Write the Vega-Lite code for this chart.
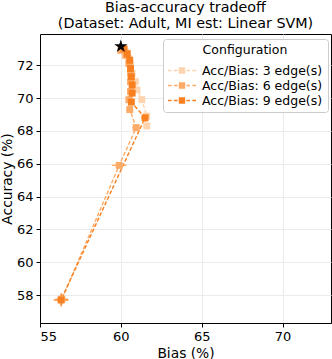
{
  "$schema": "https://vega.github.io/schema/vega-lite/v6.json",
  "autosize": {"type": "none"},
  "width": 291,
  "height": 289,
  "padding": {"left": 40, "top": 34, "right": 1, "bottom": 36},
  "background": "white",
  "config": {
    "font": "DejaVu Sans",
    "view": {"stroke": "black", "strokeWidth": 1}
  },
  "title": {
    "text": ["Bias-accuracy tradeoff", "(Dataset: Adult, MI est: Linear SVM)"],
    "fontSize": 14.3,
    "fontWeight": "normal",
    "font": "DejaVu Sans",
    "color": "black",
    "lineHeight": 15.5,
    "offset": 3,
    "anchor": "middle"
  },
  "datasets": {
    "pts": [
      {"cfg": "Acc/Bias: 3 edge(s)", "o": 1, "x": 60.1, "y": 73.0, "xlo": 60.0, "xhi": 60.2, "ylo": 72.9, "yhi": 73.1},
      {"cfg": "Acc/Bias: 3 edge(s)", "o": 2, "x": 60.3, "y": 72.8, "xlo": 60.2, "xhi": 60.4, "ylo": 72.7, "yhi": 72.9},
      {"cfg": "Acc/Bias: 3 edge(s)", "o": 3, "x": 60.5, "y": 72.4, "xlo": 60.4, "xhi": 60.6, "ylo": 72.3, "yhi": 72.5},
      {"cfg": "Acc/Bias: 3 edge(s)", "o": 4, "x": 60.6, "y": 72.0, "xlo": 60.5, "xhi": 60.7, "ylo": 71.9, "yhi": 72.1},
      {"cfg": "Acc/Bias: 3 edge(s)", "o": 5, "x": 60.7, "y": 71.5, "xlo": 60.6, "xhi": 60.8, "ylo": 71.4, "yhi": 71.6},
      {"cfg": "Acc/Bias: 3 edge(s)", "o": 6, "x": 60.9, "y": 71.0, "xlo": 60.8, "xhi": 61.0, "ylo": 70.9, "yhi": 71.1},
      {"cfg": "Acc/Bias: 3 edge(s)", "o": 7, "x": 61.0, "y": 70.5, "xlo": 60.9, "xhi": 61.1, "ylo": 70.4, "yhi": 70.6},
      {"cfg": "Acc/Bias: 3 edge(s)", "o": 8, "x": 61.3, "y": 69.9, "xlo": 61.1, "xhi": 61.5, "ylo": 69.7, "yhi": 70.1},
      {"cfg": "Acc/Bias: 3 edge(s)", "o": 9, "x": 61.6, "y": 68.9, "xlo": 61.4, "xhi": 61.8, "ylo": 68.7, "yhi": 69.1},
      {"cfg": "Acc/Bias: 3 edge(s)", "o": 10, "x": 61.6, "y": 68.3, "xlo": 61.4, "xhi": 61.8, "ylo": 68.1, "yhi": 68.5},
      {"cfg": "Acc/Bias: 6 edge(s)", "o": 1, "x": 60.0, "y": 72.9, "xlo": 59.9, "xhi": 60.1, "ylo": 72.8, "yhi": 73.0},
      {"cfg": "Acc/Bias: 6 edge(s)", "o": 2, "x": 60.3, "y": 72.6, "xlo": 60.2, "xhi": 60.4, "ylo": 72.5, "yhi": 72.7},
      {"cfg": "Acc/Bias: 6 edge(s)", "o": 3, "x": 60.5, "y": 72.1, "xlo": 60.4, "xhi": 60.6, "ylo": 72.0, "yhi": 72.2},
      {"cfg": "Acc/Bias: 6 edge(s)", "o": 4, "x": 60.6, "y": 71.5, "xlo": 60.5, "xhi": 60.7, "ylo": 71.4, "yhi": 71.6},
      {"cfg": "Acc/Bias: 6 edge(s)", "o": 5, "x": 60.6, "y": 71.0, "xlo": 60.5, "xhi": 60.7, "ylo": 70.9, "yhi": 71.1},
      {"cfg": "Acc/Bias: 6 edge(s)", "o": 6, "x": 60.6, "y": 70.4, "xlo": 60.5, "xhi": 60.7, "ylo": 70.3, "yhi": 70.5},
      {"cfg": "Acc/Bias: 6 edge(s)", "o": 7, "x": 60.5, "y": 69.9, "xlo": 60.4, "xhi": 60.6, "ylo": 69.8, "yhi": 70.0},
      {"cfg": "Acc/Bias: 6 edge(s)", "o": 8, "x": 60.55, "y": 69.3, "xlo": 60.4, "xhi": 60.7, "ylo": 69.15, "yhi": 69.45},
      {"cfg": "Acc/Bias: 6 edge(s)", "o": 9, "x": 60.95, "y": 68.2, "xlo": 60.7, "xhi": 61.2, "ylo": 68.0, "yhi": 68.4},
      {"cfg": "Acc/Bias: 6 edge(s)", "o": 10, "x": 59.9, "y": 65.9, "xlo": 59.45, "xhi": 60.35, "ylo": 65.75, "yhi": 66.05},
      {"cfg": "Acc/Bias: 6 edge(s)", "o": 11, "x": 56.35, "y": 57.75, "xlo": 55.95, "xhi": 56.75, "ylo": 57.4, "yhi": 58.1},
      {"cfg": "Acc/Bias: 9 edge(s)", "o": 1, "x": 60.2, "y": 73.0, "xlo": 60.1, "xhi": 60.3, "ylo": 72.9, "yhi": 73.1},
      {"cfg": "Acc/Bias: 9 edge(s)", "o": 2, "x": 60.4, "y": 72.7, "xlo": 60.3, "xhi": 60.5, "ylo": 72.6, "yhi": 72.8},
      {"cfg": "Acc/Bias: 9 edge(s)", "o": 3, "x": 60.55, "y": 72.3, "xlo": 60.45, "xhi": 60.65, "ylo": 72.2, "yhi": 72.4},
      {"cfg": "Acc/Bias: 9 edge(s)", "o": 4, "x": 60.6, "y": 71.8, "xlo": 60.5, "xhi": 60.7, "ylo": 71.7, "yhi": 71.9},
      {"cfg": "Acc/Bias: 9 edge(s)", "o": 5, "x": 60.65, "y": 71.3, "xlo": 60.55, "xhi": 60.75, "ylo": 71.2, "yhi": 71.4},
      {"cfg": "Acc/Bias: 9 edge(s)", "o": 6, "x": 60.7, "y": 70.8, "xlo": 60.6, "xhi": 60.8, "ylo": 70.7, "yhi": 70.9},
      {"cfg": "Acc/Bias: 9 edge(s)", "o": 7, "x": 60.7, "y": 70.3, "xlo": 60.6, "xhi": 60.8, "ylo": 70.2, "yhi": 70.4},
      {"cfg": "Acc/Bias: 9 edge(s)", "o": 8, "x": 60.65, "y": 69.75, "xlo": 60.5, "xhi": 60.8, "ylo": 69.6, "yhi": 69.9},
      {"cfg": "Acc/Bias: 9 edge(s)", "o": 9, "x": 61.5, "y": 68.8, "xlo": 61.25, "xhi": 61.75, "ylo": 68.55, "yhi": 69.05},
      {"cfg": "Acc/Bias: 9 edge(s)", "o": 10, "x": 56.3, "y": 57.7, "xlo": 55.85, "xhi": 56.75, "ylo": 57.3, "yhi": 58.1}
    ],
    "star": [{"x": 60.0, "y": 73.15}]
  },
  "encoding": {
    "x": {
      "field": "x", "type": "quantitative",
      "scale": {"domain": [55, 73], "nice": false, "zero": false},
      "axis": {
        "title": "Bias (%)", "values": [55, 60, 65, 70],
        "titleFontSize": 13.8, "titleFontWeight": "normal", "titleColor": "black",
        "labelFontSize": 13, "labelColor": "black", "labelPadding": 3,
        "domainColor": "black", "tickColor": "black", "tickSize": 4,
        "gridColor": "#ebebeb", "titlePadding": 3
      }
    },
    "y": {
      "field": "y", "type": "quantitative",
      "scale": {"domain": [56.3, 73.9], "nice": false, "zero": false},
      "axis": {
        "title": "Accuracy (%)", "values": [58, 60, 62, 64, 66, 68, 70, 72],
        "titleFontSize": 13.8, "titleFontWeight": "normal", "titleColor": "black",
        "labelFontSize": 13, "labelColor": "black", "labelPadding": 3,
        "domainColor": "black", "tickColor": "black", "tickSize": 4,
        "gridColor": "#ebebeb", "titlePadding": 2
      }
    }
  },
  "layer": [
    {
      "data": {"name": "pts"},
      "mark": {"type": "line", "strokeDash": [4, 2], "strokeWidth": 1.4},
      "encoding": {
        "order": {"field": "o", "type": "quantitative"},
        "color": {
          "field": "cfg", "type": "nominal",
          "scale": {"domain": ["Acc/Bias: 3 edge(s)", "Acc/Bias: 6 edge(s)", "Acc/Bias: 9 edge(s)"], "range": ["#fdd4ae", "#fdab66", "#f98020"]},
          "legend": {
            "title": "Configuration",
            "orient": "none", "legendX": 123, "legendY": 5,
            "titleFontSize": 12.5, "titleFontWeight": "normal", "titleColor": "black",
            "titleAnchor": "middle", "titlePadding": 6,
            "labelFontSize": 12.5, "labelColor": "black",
            "symbolType": "M-1.75,-0.1H-1.3V0.1H-1.75Z M-1.0,-0.1H-0.55V0.1H-1.0Z M-0.4,-0.4H0.4V0.4H-0.4Z M0.55,-0.1H1.0V0.1H0.55Z M1.3,-0.1H1.75V0.1H1.3Z",
            "symbolSize": 256, "symbolStrokeWidth": 0,
            "symbolFillColor": null,
            "symbolOffset": 6,
            "rowPadding": 0, "labelOffset": 12,
            "fillColor": "white", "strokeColor": "#cccccc", "cornerRadius": 3,
            "padding": 5
          }
        }
      }
    },
    {
      "data": {"name": "pts"},
      "mark": {"type": "rule", "strokeWidth": 1.3},
      "encoding": {
        "x": {"field": "xlo", "type": "quantitative"},
        "x2": {"field": "xhi"},
        "color": {"field": "cfg", "type": "nominal"}
      }
    },
    {
      "data": {"name": "pts"},
      "mark": {"type": "rule", "strokeWidth": 1.3},
      "encoding": {
        "y": {"field": "ylo", "type": "quantitative"},
        "y2": {"field": "yhi"},
        "color": {"field": "cfg", "type": "nominal"}
      }
    },
    {
      "data": {"name": "pts"},
      "mark": {"type": "point", "shape": "square", "filled": true, "opacity": 1, "size": 48},
      "encoding": {
        "color": {"field": "cfg", "type": "nominal"}
      }
    },
    {
      "data": {"name": "star"},
      "mark": {"type": "point", "shape": "M0,-1L0.2245,-0.309L0.9511,-0.309L0.3633,0.118L0.5878,0.809L0,0.382L-0.5878,0.809L-0.3633,0.118L-0.9511,-0.309L-0.2245,-0.309Z", "filled": true, "color": "black", "opacity": 1, "size": 190}
    }
  ]
}
